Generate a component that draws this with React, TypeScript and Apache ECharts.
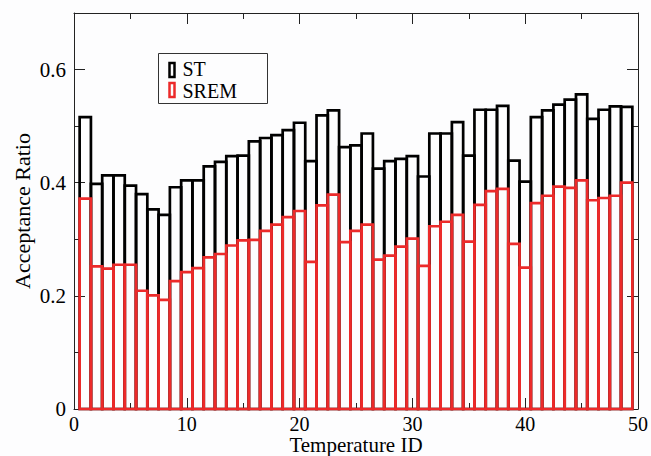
import React, { useEffect, useRef } from "react";
import * as echarts from "echarts";

// Acceptance ratio per temperature index (1..49) for the two sampling schemes
const temperatureIds = Array.from({ length: 49 }, (_, i) => i + 1);
const stRatio = [
  0.516, 0.398, 0.413, 0.413, 0.395, 0.38, 0.353, 0.343, 0.392, 0.404,
  0.404, 0.429, 0.437, 0.447, 0.448, 0.473, 0.479, 0.484, 0.493, 0.506,
  0.438, 0.519, 0.528, 0.463, 0.466, 0.487, 0.425, 0.438, 0.442, 0.447,
  0.411, 0.487, 0.487, 0.507, 0.448, 0.529, 0.529, 0.536, 0.439, 0.402,
  0.516, 0.528, 0.538, 0.547, 0.556, 0.513, 0.529, 0.535, 0.534,
];
const sremRatio = [
  0.372, 0.252, 0.248, 0.255, 0.255, 0.209, 0.201, 0.193, 0.226, 0.242,
  0.249, 0.268, 0.274, 0.289, 0.298, 0.299, 0.315, 0.326, 0.339, 0.35,
  0.26, 0.36, 0.379, 0.295, 0.315, 0.326, 0.264, 0.271, 0.287, 0.301,
  0.253, 0.323, 0.331, 0.343, 0.296, 0.361, 0.385, 0.389, 0.292, 0.25,
  0.364, 0.377, 0.393, 0.391, 0.404, 0.369, 0.373, 0.377, 0.4,
];
const seriesNames = ["ST", "SREM"];

const FONT = "Liberation Serif";
const BLACK = "#000000";
const RED = "#ec2a2a";

// Outline-only bar of unit width centred on each temperature id
function outlineBars(color: string) {
  return (params: any, api: any) => {
    const x = api.value(0);
    const v = api.value(1);
    const p0 = api.coord([x - 0.5, 0]);
    const p1 = api.coord([x + 0.5, v]);
    return {
      type: "rect",
      shape: {
        x: p0[0],
        y: p1[1],
        width: p1[0] - p0[0],
        height: p0[1] - p1[1],
      },
      style: { fill: "transparent", stroke: color, lineWidth: 2.7 },
    };
  };
}

function xAxisCfg(position: "bottom" | "top", labels: boolean) {
  return {
    type: "value",
    position,
    min: 0,
    max: 50,
    interval: 10,
    name: labels ? "Temperature ID" : "",
    nameLocation: "middle",
    nameGap: 27,
    nameMoveOverlap: false,
    nameTextStyle: { fontFamily: FONT, fontSize: 21, lineHeight: 18, color: BLACK },
    axisLine: { show: true, onZero: false, lineStyle: { color: "#222", width: 1 } },
    axisTick: { show: true, inside: true, length: 11, lineStyle: { color: "#222", width: 1 } },
    minorTick: { show: true, splitNumber: 2, length: 6, lineStyle: { color: "#222", width: 1 } },
    splitLine: { show: false },
    minorSplitLine: { show: false },
    axisLabel: {
      show: labels,
      margin: 6,
      fontFamily: FONT,
      fontSize: 20,
      lineHeight: 17,
      color: BLACK,
    },
  };
}

function yAxisCfg(position: "left" | "right", labels: boolean) {
  return {
    type: "value",
    position,
    min: 0,
    max: 0.7,
    interval: 0.2,
    name: labels ? "Acceptance Ratio" : "",
    nameLocation: "middle",
    nameGap: 41,
    nameMoveOverlap: false,
    nameTextStyle: { fontFamily: FONT, fontSize: 22, color: BLACK },
    axisLine: { show: true, onZero: false, lineStyle: { color: "#222", width: 1 } },
    axisTick: { show: true, inside: true, length: 11, lineStyle: { color: "#222", width: 1 } },
    minorTick: { show: true, splitNumber: 2, length: 6, lineStyle: { color: "#222", width: 1 } },
    splitLine: { show: false },
    minorSplitLine: { show: false },
    axisLabel: {
      show: labels,
      margin: 8,
      showMaxLabel: false,
      fontFamily: FONT,
      fontSize: 21,
      color: BLACK,
    },
  };
}

export default function App() {
  const ref = useRef<HTMLDivElement>(null);

  useEffect(() => {
    if (!ref.current) return;
    const chart = echarts.init(ref.current, undefined, { renderer: "svg" });

    const stData = temperatureIds.map((id, i) => [id, stRatio[i]]);
    const sremData = temperatureIds.map((id, i) => [id, sremRatio[i]]);

    chart.setOption({
      animation: false,
      backgroundColor: "#fdfdfe",
      grid: { left: 74, right: 13, top: 13, bottom: 47, outerBoundsMode: "none" },
      xAxis: [xAxisCfg("bottom", true), xAxisCfg("top", false)],
      yAxis: [yAxisCfg("left", true), yAxisCfg("right", false)],
      series: [
        {
          name: seriesNames[0],
          type: "custom",
          xAxisIndex: 0,
          yAxisIndex: 0,
          renderItem: outlineBars(BLACK),
          data: stData,
          encode: { x: 0, y: 1 },
          z: 2,
        },
        {
          name: seriesNames[1],
          type: "custom",
          xAxisIndex: 0,
          yAxisIndex: 0,
          renderItem: outlineBars(RED),
          data: sremData,
          encode: { x: 0, y: 1 },
          z: 3,
        },
      ],
      graphic: [
        {
          type: "group",
          left: 158,
          top: 53,
          z: 10,
          children: [
            {
              type: "rect",
              shape: { x: 0, y: 0, width: 109, height: 50 },
              style: { fill: "#fdfdfe", stroke: "#333", lineWidth: 1 },
            },
            {
              type: "rect",
              shape: { x: 11, y: 9.5, width: 5, height: 14 },
              style: { fill: "transparent", stroke: BLACK, lineWidth: 2.5 },
            },
            {
              type: "text",
              x: 24,
              y: 15.5,
              style: {
                text: seriesNames[0],
                fontFamily: FONT,
                fontSize: 20,
                lineHeight: 18,
                fill: BLACK,
                verticalAlign: "middle",
              },
            },
            {
              type: "rect",
              shape: { x: 11, y: 29.5, width: 5, height: 14 },
              style: { fill: "transparent", stroke: RED, lineWidth: 2.5 },
            },
            {
              type: "text",
              x: 24,
              y: 37.5,
              style: {
                text: seriesNames[1],
                fontFamily: FONT,
                fontSize: 20,
                lineHeight: 18,
                fill: BLACK,
                verticalAlign: "middle",
              },
            },
          ],
        },
      ],
    });

    return () => chart.dispose();
  }, []);

  return (
    <div
      ref={ref}
      style={{
        position: "fixed",
        left: 0,
        top: 0,
        width: 651,
        height: 456,
        background: "#fdfdfe",
      }}
    />
  );
}
